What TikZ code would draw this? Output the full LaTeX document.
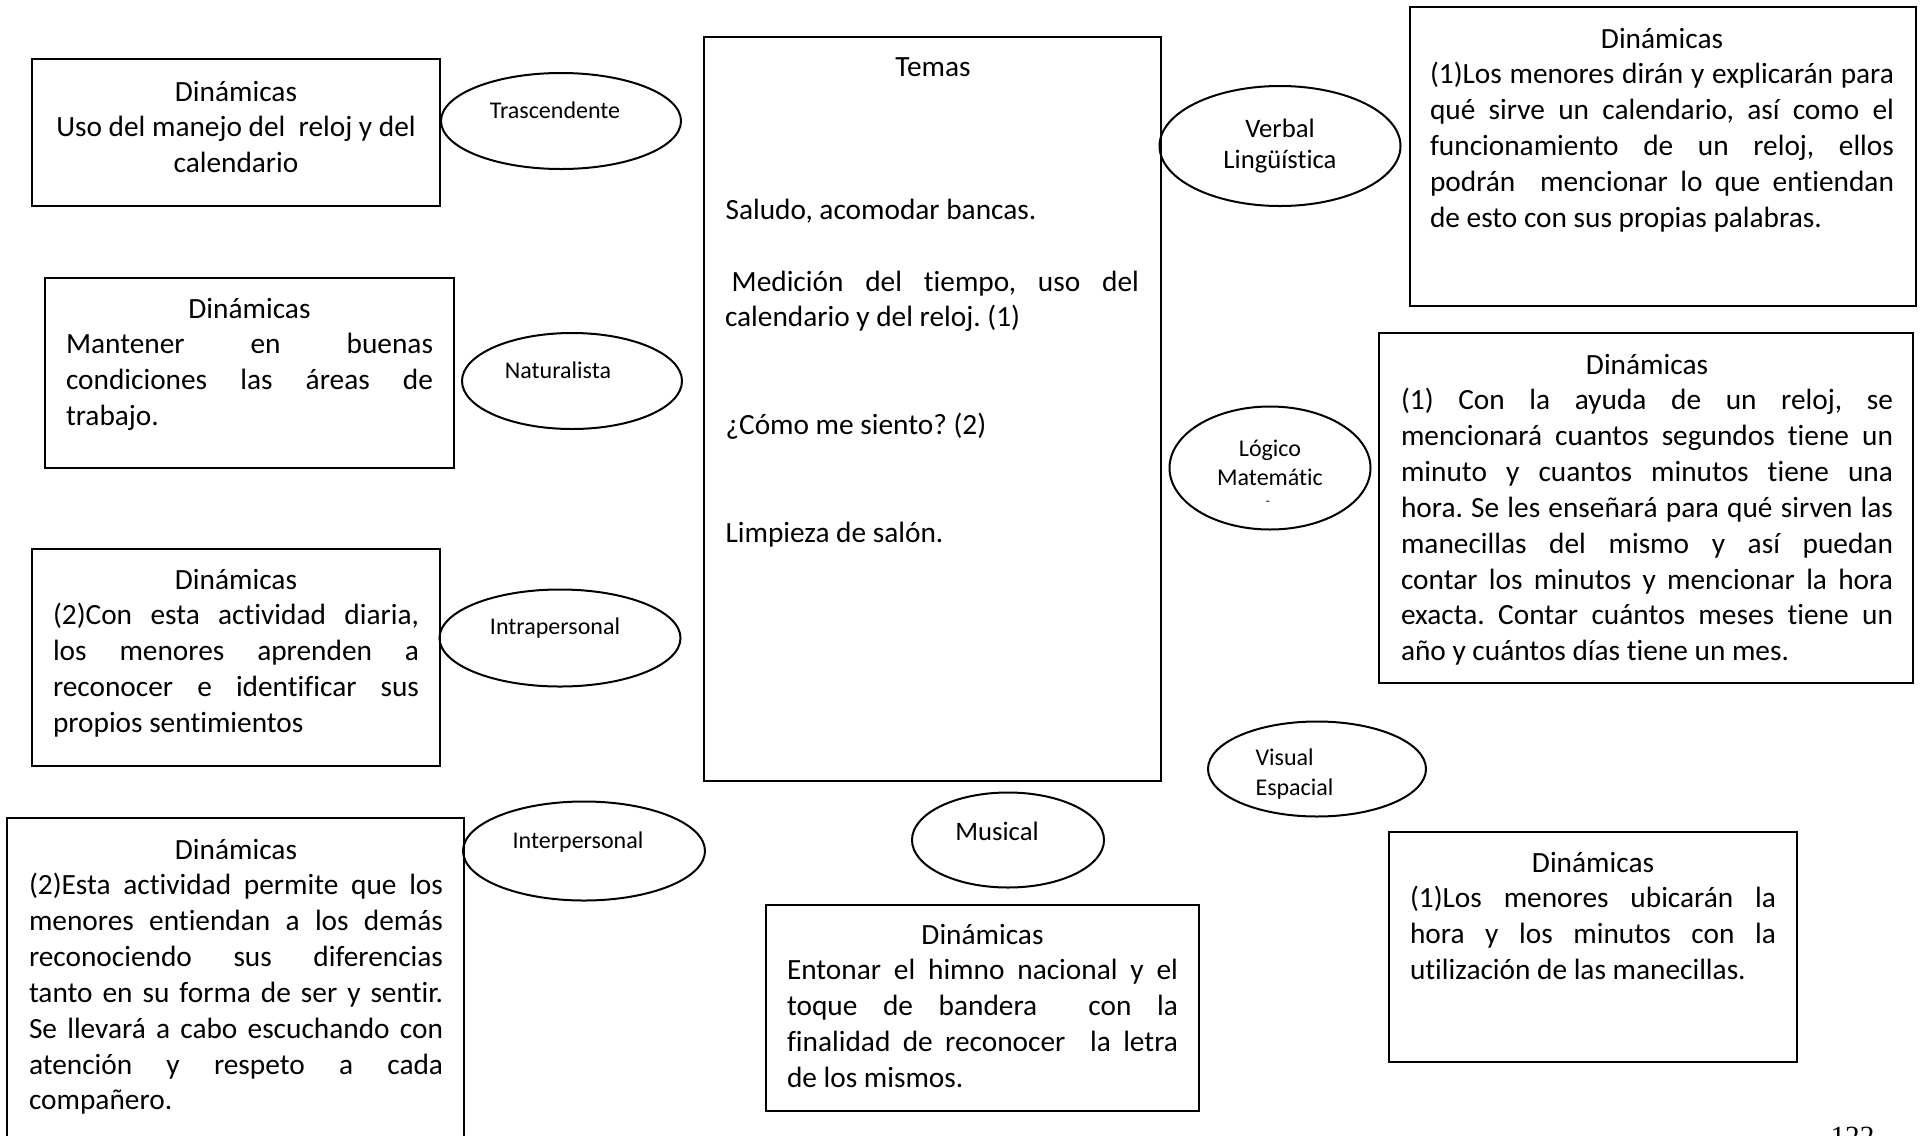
\documentclass[tikz,border=0pt]{standalone}
\usepackage{fontspec}
\setmainfont{Carlito}[Ligatures={NoRequired,NoCommon,NoContextual}, Contextuals={NoAlternate}]
\newfontfamily\pagefont{Liberation Serif}
\usetikzlibrary{shapes.geometric,fit}
\frenchspacing
\newcommand\natsp{\spaceskip=0pt\xspaceskip=0pt\frenchspacing}
\newcommand\jline[1]{\hbox to\hsize{\natsp #1}}
\newcommand\lline[1]{\hbox{\natsp #1}}
\newcommand\hdline[1]{\hbox to\hsize{\natsp\hss\rule{0pt}{10pt}#1\hss}}
\newcommand\ctline[1]{\hbox to\hsize{\natsp\hss#1\hss}}
\tikzset{
  box/.style={draw, line width=0.8pt, inner sep=0pt, outer sep=0pt},
  ell/.style={draw, ellipse, line width=0.75pt, inner sep=0pt},
  txt/.style={anchor=north west, inner sep=0pt, outer sep=0pt, font=\fontsize{11}{13.43}\selectfont},
  line11/.style={inner sep=0pt, font=\fontsize{11}{13.43}\selectfont},
  lab9/.style={inner sep=0pt, anchor=base, font=\fontsize{9}{11}\selectfont},
  lab10/.style={inner sep=0pt, anchor=base, font=\fontsize{10}{12}\selectfont},
}
\begin{document}
\begin{tikzpicture}[x=0.375pt, y=-0.375pt]
\useasboundingbox (0,0) rectangle (1922,1136);
\clip (0,0) rectangle (1922,1136);
\fill[white] (0,0) rectangle (1922,1136);

% ---------- boxes ----------
\node[box, fit={(32,59) (440,206)}] (b1) {};
\node[box, fit={(45,278) (454,468)}] (b2) {};
\node[box, fit={(32,549) (440,766)}] (b3) {};
\node[box, fit={(7,818) (464,1160)}] (b4) {};
\node[box, fit={(704,37) (1161,781)}] (temas) {};
\node[box, fit={(766,905) (1199,1111)}] (bmus) {};
\node[box, fit={(1410,7) (1916,306)}] (brt) {};
\node[box, fit={(1379,333) (1913,683)}] (brm) {};
\node[box, fit={(1389,832) (1797,1062)}] (bbr) {};

% ---------- ellipses ----------
\node[ell, minimum width=90pt, minimum height=36pt] (etras) at (561,121) {};
\node[ell, minimum width=90.375pt, minimum height=45pt] (everb) at (1280,146) {};
\node[ell, minimum width=82.5pt, minimum height=36pt] (enat) at (572,381) {};
\node[ell, minimum width=75.375pt, minimum height=46.125pt] (elog) at (1270,468) {};
\node[ell, minimum width=90.375pt, minimum height=36.375pt] (eintra) at (560,638) {};
\node[ell, minimum width=81.75pt, minimum height=35.625pt] (evis) at (1317,769) {};
\node[ell, minimum width=90.75pt, minimum height=37.125pt] (einter) at (584,851) {};
\node[ell, minimum width=72pt, minimum height=35.625pt] (emus) at (1008,840) {};

% ---------- ellipse labels ----------
\node[lab9] (ttras) at (555,118.3) {Trascendente};
\node[lab10] (tverb1) at (1280,137.3) {Verbal};
\node[lab10] (tverb2) at (1280,168.3) {Lingüística};
\node[lab9] (tnat) at (558,378.3) {Naturalista};
\node[lab9] (tlog1) at (1270,456.7) {Lógico};
\node[lab9] (tlog2) at (1270,485) {Matemátic};
\node[inner sep=0pt, font=\fontsize{5}{6}\selectfont] (tlog3) at (1268,503) {-};
\node[lab9] (tintra) at (555,634) {Intrapersonal};
\node[lab9, anchor=base west] (tvis1) at (1255,765.7) {Visual};
\node[lab9, anchor=base west] (tvis2) at (1255,795) {Espacial};
\node[lab9] (tinter) at (578,848.3) {Interpersonal};
\node[lab10] (tmus) at (997,840) {Musical};

% ---------- box texts ----------
\node[txt, text width=150pt] (x1) at (36,74.5) {%
\hdline{Dinámicas}
\ctline{Uso del manejo del\ \ reloj y del}
\ctline{calendario}};

\node[txt, text width=137.625pt] (x2) at (66,291.5) {%
\hdline{Dinámicas}
\jline{Mantener en buenas}
\jline{condiciones las áreas de}
\lline{trabajo.}};

\node[txt, text width=137.25pt] (x3) at (53,562.5) {%
\hdline{Dinámicas}
\jline{(2)Con esta actividad diaria,}
\jline{los menores aprenden a}
\jline{reconocer e identificar sus}
\lline{propios sentimientos}};

\node[txt, text width=155.25pt] (x4) at (29,832.5) {%
\hdline{Dinámicas}
\jline{(2)Esta actividad permite que los}
\jline{menores entiendan a los demás}
\jline{reconociendo sus diferencias}
\jline{tanto en su forma de ser y sentir.}
\jline{Se llevará a cabo escuchando con}
\jline{atención y respeto a cada}
\lline{compañero.}};

\node[line11, anchor=base] (ttemas) at (933,76) {Temas};
\node[line11, anchor=base west] (t1) at (725,219) {Saludo, acomodar bancas.};
\node[txt, text width=155.25pt] (t2) at (725,264.5) {%
\jline{\rule{0pt}{10pt}\kern2.5pt Medición del tiempo, uso del}
\lline{calendario y del reloj. (1)}};
\node[line11, anchor=base west] (t3) at (725,434) {¿Cómo me siento? (2)};
\node[line11, anchor=base west] (t4) at (725,542) {Limpieza de salón.};

\node[txt, text width=146.625pt] (xmus) at (787,917.5) {%
\hdline{Dinámicas}
\jline{Entonar el himno nacional y el}
\jline{toque de bandera\ \ con la}
\jline{finalidad de reconocer\ \ la letra}
\lline{de los mismos.}};

\node[txt, text width=174pt] (xrt) at (1430,21.5) {%
\hdline{Dinámicas}
\jline{(1)Los menores dirán y explicarán para}
\jline{qué sirve un calendario, así como el}
\jline{funcionamiento de un reloj, ellos}
\jline{podrán\ \ mencionar lo que entiendan}
\lline{de esto con sus propias palabras.}};

\node[txt, text width=184.5pt] (xrm) at (1401,347.5) {%
\hdline{Dinámicas}
\jline{(1) Con la ayuda de un reloj, se}
\jline{mencionará cuantos segundos tiene un}
\jline{minuto y cuantos minutos tiene una}
\jline{hora. Se les enseñará para qué sirven las}
\jline{manecillas del mismo y así puedan}
\jline{contar los minutos y mencionar la hora}
\jline{exacta. Contar cuántos meses tiene un}
\lline{año y cuántos días tiene un mes.}};

\node[txt, text width=137.25pt] (xbr) at (1410,845.5) {%
\hdline{Dinámicas}
\jline{(1)Los menores ubicarán la}
\jline{hora y los minutos con la}
\lline{utilización de las manecillas.}};

% page number
\node[inner sep=0pt, anchor=base west, font=\pagefont\fontsize{11}{13}\selectfont] (pnum) at (1830,1146.5) {122};
\end{tikzpicture}
\end{document}
